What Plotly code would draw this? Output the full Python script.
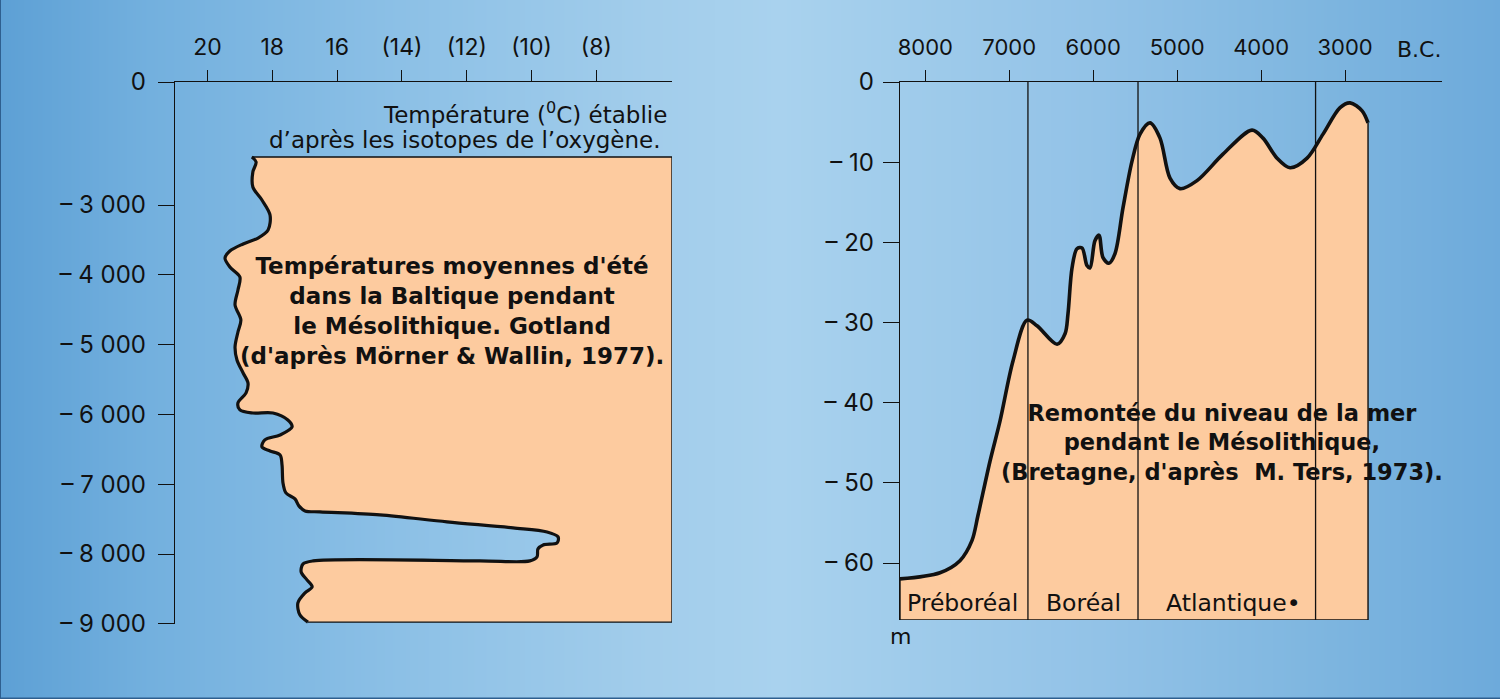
import plotly.graph_objects as go

# ---------------- data ----------------
# Left panel: summer temperature (°C) vs years (Gotland)
temp_year = [2313, 2384, 2527, 2742, 2928, 3143, 3358, 3473, 3558, 3659, 3759, 3888, 4031,
             4217, 4432, 4647, 4819, 5033, 5220, 5406, 5549, 5692, 5835, 5936, 5979, 5979,
             6079, 6179, 6294, 6365, 6465, 6523, 6580, 6723, 6981, 7124, 7210, 7310, 7382,
             7396, 7439, 7539, 7625, 7683, 7754, 7840, 7869, 7926, 8041, 8098, 8098, 8098,
             8141, 8255, 8370, 8470, 8556, 8699, 8871, 8975]
temp_c = [18.63, 18.50, 18.60, 18.60, 18.32, 18.07, 18.13, 18.44, 18.90, 19.31, 19.46, 19.31,
          19.00, 19.06, 19.15, 18.97, 19.06, 19.15, 19.09, 18.90, 18.75, 18.81, 19.06, 19.00,
          18.60, 17.98, 17.52, 17.39, 17.76, 18.23, 18.32, 18.07, 17.76, 17.70, 17.67, 17.58,
          17.30, 17.18, 16.99, 16.53, 14.68, 12.61, 10.57, 9.52, 9.18, 9.21, 9.64, 9.80, 9.83,
          10.05, 11.59, 16.74, 17.05, 17.11, 16.93, 16.77, 16.99, 17.21, 17.15, 16.90]
temp_ticks = [20, 18, 16, 14, 12, 10, 8]
temp_ticktext = ["20", "18", "16", "(14)", "(12)", "(10)", "(8)"]
year_ticks = [1238.5, 3000, 4000, 5000, 6000, 7000, 8000, 9000]
year_ticktext = ["0", "– 3 000", "– 4 000", "– 5 000", "– 6 000", "– 7 000", "– 8 000", "– 9 000"]
temp_right = 5.664     # right edge of the shaded area (°C)
temp_top_year = 2313   # top of the shaded area
temp_bottom_year = 8975

# Right panel: sea level (m below present) vs years B.C. (Brittany)
sea_year = [8301, 7825, 7587, 7444, 7373, 7229, 7110, 6955, 6788, 6669, 6430, 6335, 6300, 6252,
            6193, 6133, 6074, 6038, 5979, 5931, 5883, 5812, 5740, 5645, 5538, 5442, 5323, 5204,
            5085, 4966, 4763, 4454, 4108, 3977, 3810, 3655, 3452, 3262, 3059, 2940, 2797, 2726]
sea_depth = [61.97, 61.2, 59.7, 57.2, 54.1, 47.3, 42.3, 34.8, 29.7, 30.4, 32.7, 31.4, 28.9, 23.2,
             20.8, 20.7, 22.9, 23.2, 19.8, 19.1, 21.9, 22.6, 21.4, 15.7, 9.9, 6.5, 5.1, 7.0,
             12.0, 13.3, 12.3, 9.0, 6.0, 7.0, 9.5, 10.7, 9.5, 6.5, 3.2, 2.6, 3.6, 5.1]
bc_ticks = [8000, 7000, 6000, 5000, 4000, 3000]
bc_ticktext = ["8000", "7000", "6000", "5000", "4000", "3000"]
depth_ticks = [0, 10, 20, 30, 40, 50, 60]
depth_ticktext = ["0", "– 10", "– 20", "– 30", "– 40", "– 50", "– 60"]
period_bounds = [6777, 5466, 3351]
period_names = ["Préboréal", "Boréal", "Atlantique•"]
period_label_x = [7560, 6121, 4330]
sea_bottom = 67.1
sea_left = 8301
sea_axis_end = 1845

# ---------------- style ----------------
FONT = "Inter, Liberation Sans, Arial, sans-serif"
TFONT = "DejaVu Sans, Liberation Sans, Arial, sans-serif"
INK = "#111111"
PEACH = "#FDCB9F"
W, H = 1500, 699

fig = go.Figure()

# background gradient (heatmap on a hidden full-page axis)
bg_x = [0, 150, 400, 650, 780, 900, 1100, 1300, 1500]
bg_colors = ["#5DA0D5", "#73B0DE", "#8CC0E6", "#A2CDEB", "#A9D2EE", "#A0CCEB", "#92C2E7",
             "#80B7E0", "#6DAADB"]
fig.add_trace(go.Heatmap(
    x=bg_x, y=[0, H], z=[bg_x, bg_x], zmin=0, zmax=1500, zsmooth="best",
    colorscale=[[v / 1500, c] for v, c in zip(bg_x, bg_colors)],
    showscale=False, hoverinfo="skip", xaxis="x", yaxis="y"))

# ---- left panel ----
fig.add_trace(go.Scatter(
    x=[temp_c[0], temp_right, temp_right, temp_c[-1]],
    y=[temp_top_year, temp_top_year, temp_bottom_year, temp_bottom_year],
    mode="lines", line=dict(color=INK, width=1.4), xaxis="x2", yaxis="y2",
    hoverinfo="skip", showlegend=False))
fig.add_trace(go.Scatter(
    x=temp_c, y=temp_year, mode="lines", fill="tonextx", fillcolor=PEACH,
    line=dict(color=INK, width=3.2, shape="spline", smoothing=0.9),
    xaxis="x2", yaxis="y2", hoverinfo="skip", showlegend=False))

# ---- right panel ----
fig.add_trace(go.Scatter(
    x=[sea_left, sea_left, sea_year[-1], sea_year[-1]],
    y=[sea_depth[0], sea_bottom, sea_bottom, sea_depth[-1]],
    mode="lines", line=dict(color=INK, width=1.4), xaxis="x3", yaxis="y3",
    hoverinfo="skip", showlegend=False))
fig.add_trace(go.Scatter(
    x=sea_year, y=sea_depth, mode="lines", fill="tonextx", fillcolor=PEACH,
    line=dict(color=INK, width=3.6, shape="spline", smoothing=0.9),
    xaxis="x3", yaxis="y3", hoverinfo="skip", showlegend=False))
for b in period_bounds:
    fig.add_trace(go.Scatter(
        x=[b, b], y=[0, sea_bottom], mode="lines", line=dict(color=INK, width=1.3),
        xaxis="x3", yaxis="y3", hoverinfo="skip", showlegend=False))

tick_common = dict(ticks="outside", tickcolor=INK, showline=True, linecolor=INK, linewidth=1.4,
                   showgrid=False, zeroline=False, fixedrange=True, automargin=False)

fig.update_layout(
    width=W, height=H, autosize=False,
    margin=dict(l=0, r=0, t=0, b=0, pad=0, autoexpand=False),
    paper_bgcolor="#7FB6E0", plot_bgcolor="rgba(0,0,0,0)", showlegend=False,
    font=dict(family=FONT, color=INK),
    xaxis=dict(domain=[0, 1], range=[0, W], visible=False, fixedrange=True, automargin=False),
    yaxis=dict(domain=[0, 1], range=[0, H], visible=False, fixedrange=True, automargin=False),
    xaxis2=dict(domain=[175 / W, 672 / W], range=[21.003, temp_right], side="top", anchor="y2",
                tickvals=temp_ticks, ticktext=temp_ticktext, ticklen=11,
                tickfont=dict(size=23, family=FONT, color=INK), ticklabelstandoff=6, **tick_common),
    yaxis2=dict(domain=[1 - 624 / H, 1 - 82 / H], range=[9002, 1238], anchor="x2",
                tickvals=year_ticks, ticktext=year_ticktext, ticklen=16,
                tickfont=dict(size=24, family=FONT, color=INK), ticklabelstandoff=7, **tick_common),
    xaxis3=dict(domain=[900 / W, 1442 / W], range=[sea_left, sea_axis_end], side="top", anchor="y3",
                tickvals=bc_ticks, ticktext=bc_ticktext, ticklen=11,
                tickfont=dict(size=22, family=FONT, color=INK), ticklabelstandoff=6, **tick_common),
    yaxis3=dict(domain=[1 - 620 / H, 1 - 82 / H], range=[sea_bottom, 0], anchor="x3",
                tickvals=depth_ticks, ticktext=depth_ticktext, ticklen=16,
                tickfont=dict(size=24, family=FONT, color=INK), ticklabelstandoff=4, **tick_common),
)

annotations = [
    dict(xref="x2", yref="y2", x=temp_right, y=1683, xanchor="right", yanchor="middle", xshift=-3,
         text="Température (<sup>0</sup>C) établie",
         showarrow=False, font=dict(size=23, family=TFONT, color=INK)),
    dict(xref="x2", yref="y2", x=temp_right, y=2069, xanchor="right", yanchor="middle", xshift=-9,
         text="d’après les isotopes de l’oxygène.",
         showarrow=False, font=dict(size=23, family=TFONT, color=INK)),
    dict(xref="x2", yref="y2", x=12.45, y=4518, xanchor="center", yanchor="middle",
         text="<b>Températures moyennes d'été<br>dans la Baltique pendant<br>le Mésolithique. Gotland<br>(d'après Mörner & Wallin, 1977).</b>",
         align="center", showarrow=False, font=dict(size=23, family=TFONT, color=INK)),
    dict(xref="x3", yref="y3", x=4460, y=45.0, xanchor="center", yanchor="middle",
         text="<b>Remontée du niveau de la mer<br>pendant le Mésolithique,<br>(Bretagne, d'après  M. Ters, 1973).</b>",
         align="center", showarrow=False, font=dict(size=22.5, family=TFONT, color=INK)),
    dict(xref="paper", yref="paper", x=1419 / W, y=1 - 50 / H, xanchor="center", yanchor="middle",
         text="B.C.", showarrow=False, font=dict(size=22, family=TFONT, color=INK)),
    dict(xref="x3", yref="paper", x=sea_left, y=1 - 636 / H, xanchor="center", yanchor="middle",
         text="m", showarrow=False, font=dict(size=22, family=TFONT, color=INK)),
]
for name, xpos in zip(period_names, period_label_x):
    annotations.append(dict(xref="x3", yref="y3", x=xpos, y=65.0, xanchor="center",
                            yanchor="middle", text=name, showarrow=False,
                            font=dict(size=23.5, family=TFONT, color=INK)))
fig.update_layout(annotations=annotations)

fig.update_layout(shapes=[
    dict(type="line", xref="paper", yref="paper", x0=0, x1=0, y0=0, y1=1,
         line=dict(color="#2E5F8F", width=2)),
    dict(type="line", xref="paper", yref="paper", x0=0, x1=1, y0=0, y1=0,
         line=dict(color="#2E5F8F", width=3)),
])

fig.write_html("out.html")
